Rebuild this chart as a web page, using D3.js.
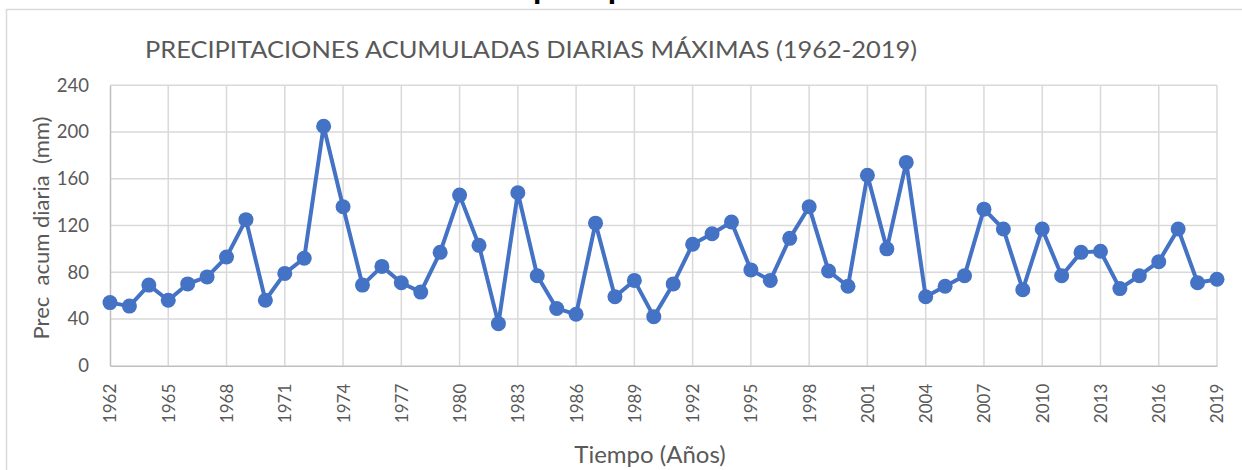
<!DOCTYPE html>
<html>
<head>
<meta charset="utf-8">
<script src="https://cdn.jsdelivr.net/npm/d3@7"></script>
<style>
  html, body { margin: 0; padding: 0; background: #fff; }
  svg { display: block; }
  text { font-family: Lato, "Open Sans", sans-serif; }
</style>
</head>
<body>
<svg id="chart" width="1242" height="470"></svg>
<script>
const years = d3.range(1962, 2020);
const values = [54, 51, 69, 56, 70, 76, 93, 125, 56, 79,
                92, 205, 136, 69, 85, 71, 63, 97, 146, 103,
                36, 148, 77, 49, 44, 122, 59, 73, 42, 70,
                104, 113, 123, 82, 73, 109, 136, 81, 68, 163,
                100, 174, 59, 68, 77, 134, 117, 65, 117, 77,
                97, 98, 66, 77, 89, 117, 71, 74];
const xTicks = d3.range(1962, 2020, 3);
const yTicks = [0, 40, 80, 120, 160, 200, 240];
const chartTitle = "PRECIPITACIONES ACUMULADAS DIARIAS MÁXIMAS (1962-2019)";
const cutTitle = "precipitaciones";
const yLabel = "Prec  acum diaria  (mm)";
const xLabel = "Tiempo (Años)";

const svg = d3.select("#chart");
const mLeft = 110, mRight = 1217, mTop = 85.3, mBottom = 365.7;

const x = d3.scaleLinear().domain([1962, 2019]).range([mLeft, mRight]);
const y = d3.scaleLinear().domain([0, 240]).range([mBottom, mTop]);

// outer chart border (partially visible)
svg.append("path")
  .attr("d", "M6.5,470 L6.5,9.5 L1242,9.5")
  .attr("fill", "none").attr("stroke", "#d9d9d9").attr("stroke-width", 1.5);

// cut-off heading at the very top
svg.append("text")
  .attr("x", 533).attr("y", -2)
  .attr("font-size", 34).attr("font-weight", "bold")
  .attr("fill", "#000")
  .text(cutTitle);

// gridlines
const gGrid = svg.append("g");
gGrid.selectAll("line.h").data(yTicks.filter(d => d > 0)).join("line")
  .attr("x1", mLeft).attr("x2", mRight)
  .attr("y1", d => y(d)).attr("y2", d => y(d))
  .attr("stroke", "#d9d9d9").attr("stroke-width", 1.5);
gGrid.selectAll("line.v").data(xTicks.filter(d => d > 1962)).join("line")
  .attr("x1", d => x(d)).attr("x2", d => x(d))
  .attr("y1", mTop).attr("y2", mBottom)
  .attr("stroke", "#d9d9d9").attr("stroke-width", 1.5);

// axes
const yAxis = d3.axisLeft(y).tickValues(yTicks).tickSize(0).tickPadding(21);
const gy = svg.append("g").attr("transform", `translate(${mLeft},0)`).call(yAxis);
gy.select(".domain").attr("stroke", "#bfbfbf").attr("stroke-width", 1.5);
gy.selectAll("text").attr("font-size", 18.5).attr("fill", "#595959")
  .attr("font-family", "Lato, 'Open Sans', sans-serif");

const xAxis = d3.axisBottom(x).tickValues(xTicks).tickSize(0).tickFormat(d3.format("d"));
const gx = svg.append("g").attr("transform", `translate(0,${mBottom})`).call(xAxis);
gx.select(".domain").attr("stroke", "#bfbfbf").attr("stroke-width", 1.5);
gx.selectAll("text")
  .attr("font-size", 17).attr("fill", "#595959")
  .attr("font-family", "Lato, 'Open Sans', sans-serif")
  .attr("text-anchor", "end")
  .attr("transform", "translate(0,18) rotate(-90)")
  .attr("x", 0).attr("y", 0).attr("dy", "0.35em");

// line
const data = years.map((yr, i) => ({ yr, v: values[i] }));
svg.append("path")
  .datum(data)
  .attr("fill", "none")
  .attr("stroke", "#4472C4")
  .attr("stroke-width", 4)
  .attr("stroke-linejoin", "round")
  .attr("d", d3.line().x(d => x(d.yr)).y(d => y(d.v)));

svg.append("g").selectAll("circle").data(data).join("circle")
  .attr("cx", d => x(d.yr)).attr("cy", d => y(d.v))
  .attr("r", 7.5).attr("fill", "#4472C4");

// titles
svg.append("text")
  .attr("x", 145).attr("y", 58)
  .attr("font-size", 24).attr("fill", "#595959")
  .attr("textLength", 772).attr("lengthAdjust", "spacingAndGlyphs")
  .text(chartTitle);

svg.append("text")
  .attr("transform", "translate(49,228) rotate(-90)")
  .attr("text-anchor", "middle")
  .attr("font-size", 22).attr("fill", "#595959")
  .style("white-space", "pre")
  .text(yLabel);

svg.append("text")
  .attr("x", 650).attr("y", 463)
  .attr("text-anchor", "middle")
  .attr("font-size", 24).attr("fill", "#595959")
  .text(xLabel);
</script>
</body>
</html>
